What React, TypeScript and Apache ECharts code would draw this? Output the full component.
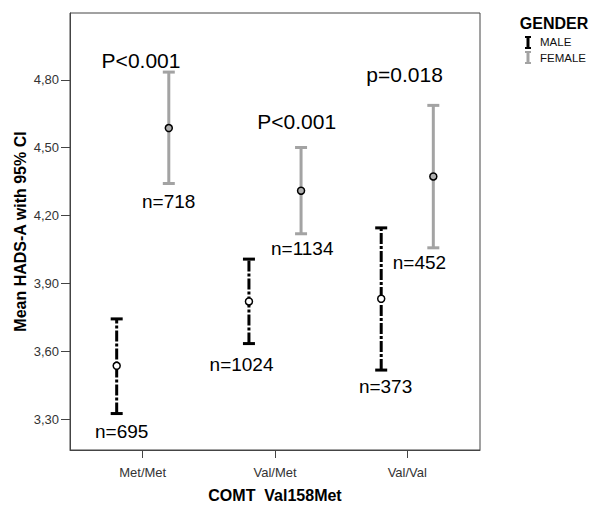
import React, { useEffect, useRef } from "react";
import * as echarts from "echarts";

const categories = ["Met/Met", "Val/Met", "Val/Val"];
// [mean, lower 95% CI, upper 95% CI]
const maleMean = [3.537, 3.821, 3.833];
const maleLower = [3.326, 3.635, 3.518];
const maleUpper = [3.744, 4.008, 4.146];
const femaleMean = [4.587, 4.31, 4.373];
const femaleLower = [4.342, 4.12, 4.058];
const femaleUpper = [4.834, 4.501, 4.687];
const yTicks = [3.3, 3.6, 3.9, 4.2, 4.5, 4.8];

// annotations in data units
const pTexts = ["P<0.001", "P<0.001", "p=0.018"];
const pX = [-0.013, 1.164, 1.98];
const pY = [4.885, 4.616, 4.825];
const nTexts = ["n=695", "n=1024", "n=373", "n=718", "n=1134", "n=452"];
const nX = [-0.159, 0.747, 1.836, 0.196, 1.206, 2.092];
const nY = [3.245, 3.544, 3.445, 4.262, 4.054, 3.995];

const FONT = "'Liberation Sans', Arial, sans-serif";

function makeRender(offset: number, color: string, dash: number[] | null) {
  return (params: any, api: any) => {
    const x = api.value(0) + offset;
    const mean = api.coord([x, api.value(1)]);
    const lo = api.coord([x, api.value(2)]);
    const hi = api.coord([x, api.value(3)]);
    const cap = 6;
    const lineStyle: any = { stroke: color, lineWidth: 3 };
    if (dash) lineStyle.lineDash = dash;
    return {
      type: "group",
      children: [
        { type: "line", shape: { x1: lo[0], y1: lo[1], x2: hi[0], y2: hi[1] }, style: lineStyle },
        { type: "line", shape: { x1: lo[0] - cap, y1: lo[1], x2: lo[0] + cap, y2: lo[1] }, style: { stroke: color, lineWidth: 3 } },
        { type: "line", shape: { x1: hi[0] - cap, y1: hi[1], x2: hi[0] + cap, y2: hi[1] }, style: { stroke: color, lineWidth: 3 } },
        { type: "circle", shape: { cx: mean[0], cy: mean[1], r: 3.5 }, style: { fill: color === "#000" ? "#ffffff" : "#b0b0b0", stroke: "#000", lineWidth: 1.5 } },
      ],
    };
  };
}

export default function App() {
  const ref = useRef<HTMLDivElement>(null);
  useEffect(() => {
    const chart = echarts.init(ref.current!, null, { renderer: "svg" });
    const maleData = categories.map((c, i) => [i, maleMean[i], maleLower[i], maleUpper[i]]);
    const femaleData = categories.map((c, i) => [i, femaleMean[i], femaleLower[i], femaleUpper[i]]);
    const textLabel = (size: number) => ({
      show: true,
      position: "inside",
      formatter: (p: any) => p.data[2],
      fontSize: size,
      color: "#000",
      opacity: 1,
      fontFamily: FONT,
    });
    chart.setOption({
      animation: false,
      backgroundColor: "#ffffff",
      grid: { left: 70, top: 13, right: 120, bottom: 64, show: true, borderColor: "#444", borderWidth: 1 },
      xAxis: {
        type: "value",
        min: -0.55,
        max: 2.55,
        splitLine: { show: false },
        axisLine: { show: true, onZero: false, lineStyle: { color: "#444" } },
        axisTick: { show: true, length: 8, customValues: [0, 1, 2], lineStyle: { color: "#444" } },
        axisLabel: {
          customValues: [0, 1, 2],
          formatter: (v: number) => categories[Math.round(v)] ?? "",
          fontSize: 13,
          color: "#333",
          margin: 16,
          fontFamily: FONT,
        },
        name: "COMT  Val158Met",
        nameLocation: "middle",
        nameGap: 37,
        nameMoveOverlap: false,
        nameTextStyle: { fontSize: 16, fontWeight: "bold", color: "#000", fontFamily: FONT },
      },
      yAxis: {
        type: "value",
        min: 3.165,
        max: 5.095,
        splitLine: { show: false },
        axisLine: { show: true, onZero: false, lineStyle: { color: "#444" } },
        axisTick: { show: true, length: 9, customValues: yTicks, lineStyle: { color: "#444" } },
        axisLabel: {
          customValues: yTicks,
          formatter: (v: number) => v.toFixed(2).replace(".", ","),
          fontSize: 13,
          color: "#333",
          margin: 11,
          fontFamily: FONT,
        },
        name: "Mean HADS-A with 95% CI",
        nameLocation: "middle",
        nameGap: 42,
        nameMoveOverlap: false,
        nameTextStyle: { fontSize: 16, fontWeight: "bold", color: "#000", fontFamily: FONT },
      },
      series: [
        { type: "custom", name: "MALE", renderItem: makeRender(-0.197, "#000", [11, 2, 3, 2]), data: maleData, z: 3 },
        { type: "custom", name: "FEMALE", renderItem: makeRender(0.197, "#a3a3a3", null), data: femaleData, z: 2 },
        {
          type: "scatter",
          symbolSize: 0,
          itemStyle: { opacity: 1 },
          data: pTexts.map((t, i) => [pX[i], pY[i], t]),
          label: textLabel(21),
          silent: true,
        },
        {
          type: "scatter",
          symbolSize: 0,
          itemStyle: { opacity: 1 },
          data: nTexts.map((t, i) => [nX[i], nY[i], t]),
          label: textLabel(19),
          silent: true,
        },
      ],
      graphic: [
        { type: "text", x: 554, y: 23, style: { text: "GENDER", font: `bold 16px ${FONT}`, fill: "#000", align: "center", verticalAlign: "middle" } },
        { type: "line", shape: { x1: 528, y1: 37, x2: 528, y2: 48 }, style: { stroke: "#000", lineWidth: 3 } },
        { type: "line", shape: { x1: 525, y1: 37, x2: 531, y2: 37 }, style: { stroke: "#000", lineWidth: 2 } },
        { type: "line", shape: { x1: 525, y1: 48, x2: 531, y2: 48 }, style: { stroke: "#000", lineWidth: 2 } },
        { type: "line", shape: { x1: 528, y1: 52, x2: 528, y2: 63 }, style: { stroke: "#a3a3a3", lineWidth: 3 } },
        { type: "line", shape: { x1: 525, y1: 52, x2: 531, y2: 52 }, style: { stroke: "#a3a3a3", lineWidth: 2 } },
        { type: "line", shape: { x1: 525, y1: 63, x2: 531, y2: 63 }, style: { stroke: "#a3a3a3", lineWidth: 2 } },
        { type: "text", x: 540, y: 42, style: { text: "MALE", font: `11.5px ${FONT}`, fill: "#111", align: "left", verticalAlign: "middle" } },
        { type: "text", x: 540, y: 58, style: { text: "FEMALE", font: `11.5px ${FONT}`, fill: "#111", align: "left", verticalAlign: "middle" } },
      ],
    });
    return () => chart.dispose();
  }, []);
  return <div ref={ref} style={{ width: 600, height: 514, position: "absolute", left: 0, top: 0 }} />;
}
